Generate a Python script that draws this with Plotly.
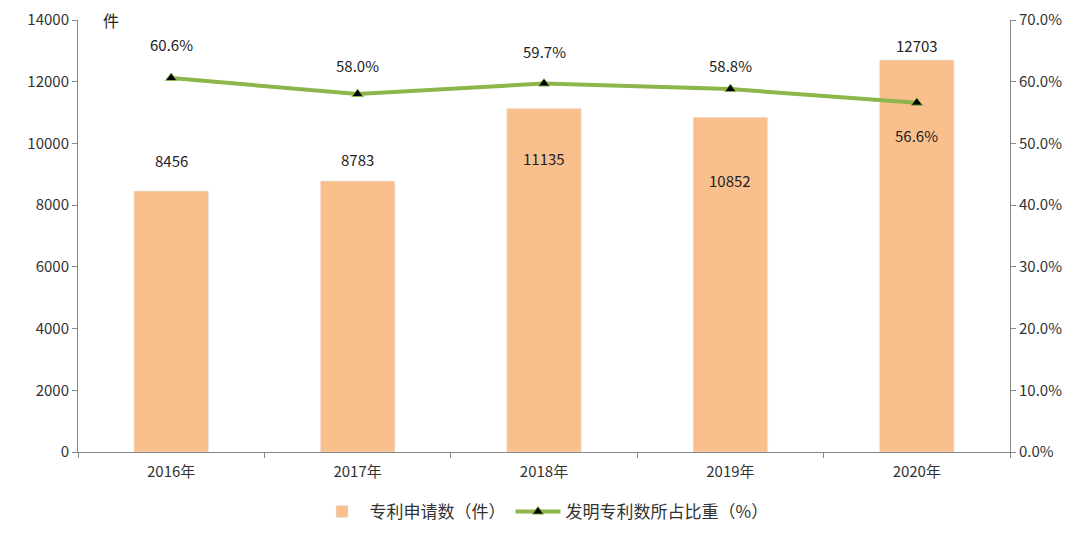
import plotly.graph_objects as go

years = ["2016年", "2017年", "2018年", "2019年", "2020年"]
patents = [8456, 8783, 11135, 10852, 12703]
invention_share = [60.6, 58.0, 59.7, 58.8, 56.6]

# label offsets in px (positive = up), placed by hand like the original
bar_label_shift = [31, 21, -50, -63, 15]
line_label_shift = [34, 29, 32, 24, -33]

font = "Noto Sans CJK SC, Microsoft YaHei, sans-serif"
label_font = dict(size=15, color="#222222")

fig = go.Figure()
fig.add_trace(go.Bar(
    x=years, y=patents, name="专利申请数（件）",
    marker=dict(color="#F9C08E"), width=0.4,
))
fig.add_trace(go.Scatter(
    x=years, y=invention_share, name="发明专利数所占比重（%）", yaxis="y2",
    mode="lines+markers",
    line=dict(color="#8CB64B", width=4),
    marker=dict(symbol="triangle-up", size=10, color="black",
                line=dict(color="#8CB64B", width=1)),
    cliponaxis=False,
))

annotations = [dict(text="件", xref="paper", yref="paper", x=0.025, y=1.0,
                    xanchor="left", yanchor="middle", showarrow=False,
                    font=dict(size=16, color="#222222"))]
for yr, v, s in zip(years, patents, bar_label_shift):
    annotations.append(dict(x=yr, y=v, xref="x", yref="y", text=str(v), showarrow=False,
                            yshift=s, yanchor="middle", font=label_font))
for yr, v, s in zip(years, invention_share, line_label_shift):
    annotations.append(dict(x=yr, y=v, xref="x", yref="y2", text=f"{v:.1f}%", showarrow=False,
                            yshift=s, yanchor="middle", font=label_font))

# page body adds an 8px offset, so margins are trimmed on the left/top
fig.update_layout(
    width=1080, height=538,
    margin=dict(l=70, r=78, t=12, b=94),
    plot_bgcolor="white", paper_bgcolor="white",
    font=dict(family=font, size=15, color="#333333"),
    xaxis=dict(showline=True, linecolor="#888888", ticks="outside", tickson="boundaries",
               tickcolor="#888888", ticklen=5, tickfont=dict(size=15), automargin=False,
               ticklabelstandoff=6),
    yaxis=dict(range=[0, 14000], dtick=2000, tickformat="d", showgrid=False, showline=True,
               linecolor="#888888", ticks="outside", tickcolor="#888888", ticklen=5,
               zeroline=False, tickfont=dict(size=15), automargin=False),
    yaxis2=dict(range=[0, 70], dtick=10, overlaying="y", side="right", showgrid=False,
                showline=True, linecolor="#888888", ticks="outside", tickcolor="#888888",
                ticklen=5, tickformat=".1f", ticksuffix="%", tickfont=dict(size=15),
                automargin=False),
    legend=dict(orientation="h", x=0.5, xanchor="center", y=-0.139, yanchor="middle",
                font=dict(size=17), itemwidth=45, traceorder="normal"),
    annotations=annotations,
)

fig.write_html("out.html")
